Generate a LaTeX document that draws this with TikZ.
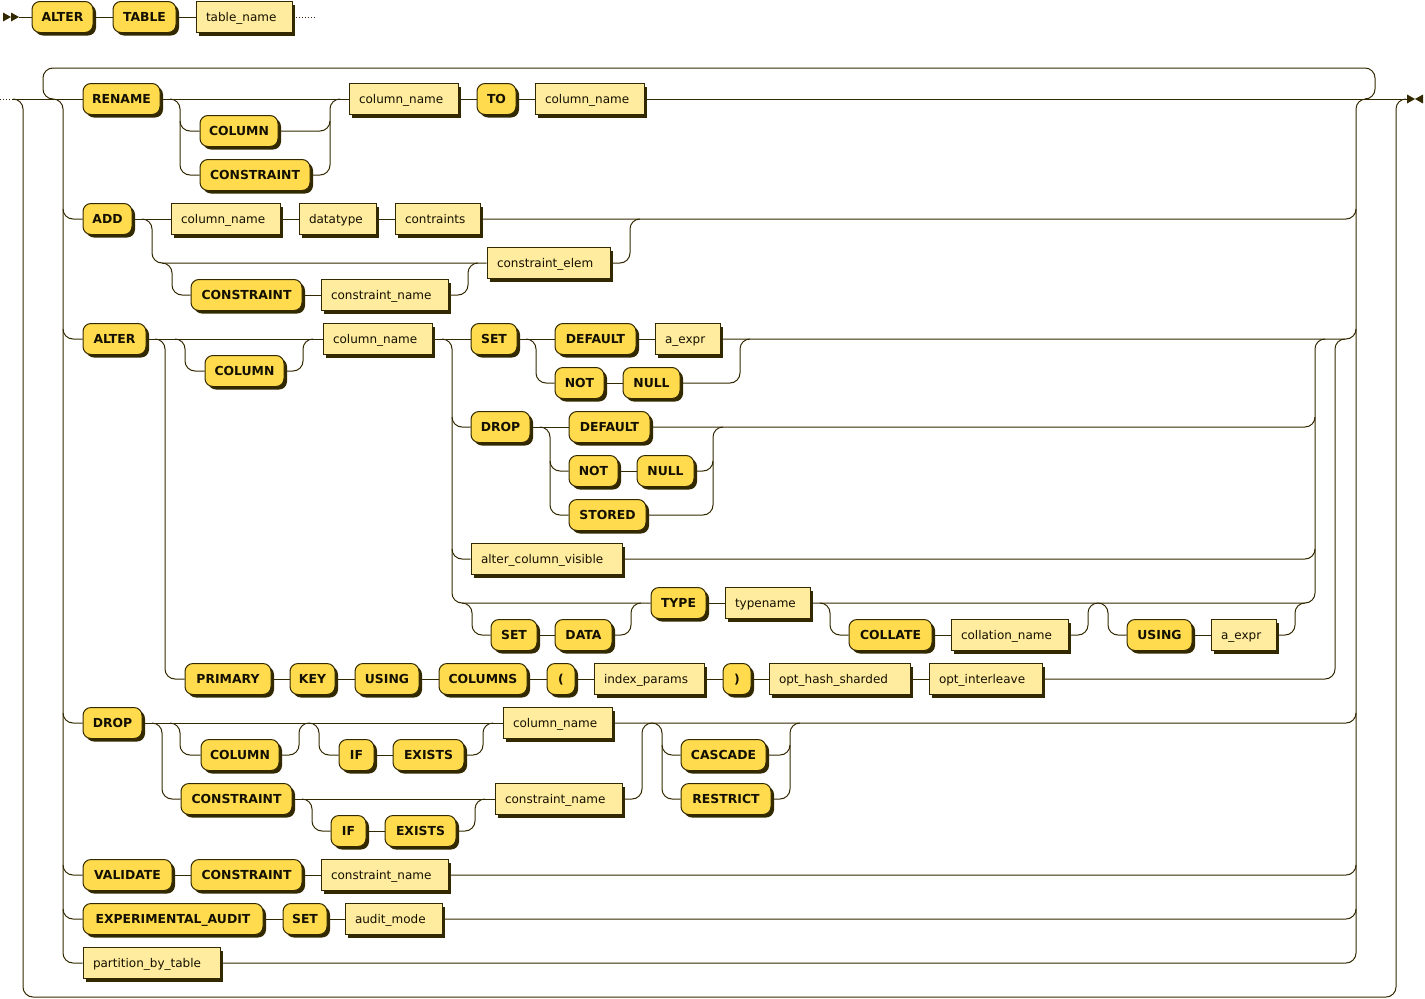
\documentclass[tikz,border=0pt]{standalone}
\usepackage{fontspec}
\setmainfont{DejaVu Sans}
\usetikzlibrary{shadows}
\definecolor{linec}{HTML}{332900}
\definecolor{textc}{HTML}{141000}
\definecolor{termc}{HTML}{FFDB4D}
\definecolor{ntc}{HTML}{FFEC9E}
\definecolor{shadc}{HTML}{332900}
\pgfdeclarelayer{bg}
\pgfsetlayers{bg,main}
\tikzset{
  line/.style={draw=linec, line width=1pt},
  rr/.style={line, rounded corners=10pt},
  dotline/.style={draw=linec, line width=1pt, dash pattern=on 1pt off 2pt},
  boxbase/.style={draw=linec, line width=1pt, minimum height=31pt, inner ysep=0pt,
    text height=8.75pt, text depth=0pt, text=textc,
    drop shadow={shadow xshift=3pt, shadow yshift=-3pt, fill=shadc, opacity=1}},
  term/.style={boxbase, fill=termc, rounded corners=8pt, inner xsep=0pt,
    font={\fontsize{12.4pt}{14pt}\selectfont\bfseries}},
  nonterm/.style={boxbase, fill=ntc, inner xsep=10pt, align=left,
    font={\fontsize{12pt}{14pt}\selectfont}},
}
% keyword box: name, left x, right x, row y, text
\newcommand\kwbox[5]{\pgfmathsetmacro\boxw{#3-#2}%
  \node[term, minimum width=\boxw pt] (#1) at ({(#2+#3)/2},#4) {#5};}
% rule reference box: name, left x, right x, row y, text
\newcommand\ntbox[5]{\pgfmathsetmacro\boxw{#3-#2-20}%
  \node[nonterm, text width=\boxw pt] (#1) at ({(#2+#3)/2},#4) {#5};}
\begin{document}
\begin{tikzpicture}[x=1pt, y=-1pt]
\useasboundingbox (0,0) rectangle (1425,999);

% ---------- header row ----------
\kwbox{a0}{32}{93}{17}{ALTER}
\kwbox{t0}{113}{176}{17}{TABLE}
\ntbox{tn0}{196}{292}{17}{table\_name}
\coordinate (st) at (19,17);
\coordinate (cont) at (315,17);
\fill[linec] (3,12.5) -- (11,17) -- (3,21.5) -- cycle;
\fill[linec] (11,12.5) -- (19,17) -- (11,21.5) -- cycle;

% ---------- RENAME ----------
\kwbox{rename}{83}{160}{99}{RENAME}
\kwbox{rcol}{200}{278}{131}{COLUMN}
\kwbox{rcons}{200}{310}{175}{CONSTRAINT}
\ntbox{rcn1}{349}{458}{99}{column\_name}
\kwbox{rto}{477}{516}{99}{TO}
\ntbox{rcn2}{535}{644}{99}{column\_name}

% ---------- ADD ----------
\kwbox{add}{83}{132}{219}{ADD}
\ntbox{acn}{171}{280}{219}{column\_name}
\ntbox{adt}{299}{376}{219}{datatype}
\ntbox{acon}{395}{480}{219}{contraints}
\ntbox{aelem}{487}{610}{263}{constraint\_elem}
\kwbox{acons}{191}{302}{295}{CONSTRAINT}
\ntbox{acname}{321}{448}{295}{constraint\_name}

% ---------- ALTER ----------
\kwbox{alt}{83}{146}{339}{ALTER}
\kwbox{acol}{205}{284}{371}{COLUMN}
\ntbox{acn2}{323}{432}{339}{column\_name}
\kwbox{aset}{471}{517}{339}{SET}
\kwbox{adef}{555}{636}{339}{DEFAULT}
\ntbox{aexpr1}{655}{720}{339}{a\_expr}
\kwbox{anot1}{555}{604}{383}{NOT}
\kwbox{anull1}{623}{680}{383}{NULL}
\kwbox{adrop}{471}{530}{427}{DROP}
\kwbox{ddef}{569}{650}{427}{DEFAULT}
\kwbox{dnot}{569}{618}{471}{NOT}
\kwbox{dnull}{637}{694}{471}{NULL}
\kwbox{dstored}{569}{646}{515}{STORED}
\ntbox{acv}{471}{622}{559}{alter\_column\_visible}
\kwbox{sset}{491}{537}{635}{SET}
\kwbox{sdata}{555}{612}{635}{DATA}
\kwbox{ttype}{651}{706}{603}{TYPE}
\ntbox{ttn}{725}{810}{603}{typename}
\kwbox{tcoll}{849}{932}{635}{COLLATE}
\ntbox{tcn}{951}{1068}{635}{collation\_name}
\kwbox{tusing}{1127}{1192}{635}{USING}
\ntbox{texpr}{1211}{1276}{635}{a\_expr}
\kwbox{pk1}{185}{271}{679}{PRIMARY}
\kwbox{pk2}{290}{335}{679}{KEY}
\kwbox{pk3}{355}{419}{679}{USING}
\kwbox{pk4}{439}{527}{679}{COLUMNS}
\kwbox{pk5}{547}{575}{679}{(}
\ntbox{pk6}{594}{704}{679}{index\_params}
\kwbox{pk7}{723}{751}{679}{)}
\ntbox{pk8}{769}{910}{679}{opt\_hash\_sharded}
\ntbox{pk9}{929}{1042}{679}{opt\_interleave}

% ---------- DROP ----------
\kwbox{drop}{83}{142}{723}{DROP}
\kwbox{dcol}{201}{279}{755}{COLUMN}
\kwbox{dif1}{339}{374}{755}{IF}
\kwbox{dex1}{393}{464}{755}{EXISTS}
\ntbox{dcn}{503}{612}{723}{column\_name}
\kwbox{dcons}{181}{292}{799}{CONSTRAINT}
\kwbox{dif2}{331}{366}{831}{IF}
\kwbox{dex2}{385}{456}{831}{EXISTS}
\ntbox{dconn}{495}{622}{799}{constraint\_name}
\kwbox{casc}{681}{766}{755}{CASCADE}
\kwbox{restr}{681}{771}{799}{RESTRICT}

% ---------- VALIDATE / EXPERIMENTAL_AUDIT / partition ----------
\kwbox{val}{83}{172}{875}{VALIDATE}
\kwbox{vcons}{191}{302}{875}{CONSTRAINT}
\ntbox{vcn}{321}{448}{875}{constraint\_name}
\kwbox{exp}{83}{263}{919}{EXPERIMENTAL\_AUDIT}
\kwbox{eset}{283}{327}{919}{SET}
\ntbox{eam}{345}{442}{919}{audit\_mode}
\ntbox{pbt}{83}{220}{963}{partition\_by\_table}

% end marker
\coordinate (s2) at (0,99);
\coordinate (s2b) at (13,99);
\coordinate (e2) at (1407,99);
\fill[linec] (1407,94.5) -- (1415,99) -- (1407,103.5) -- cycle;
\fill[linec] (1423,94.5) -- (1415,99) -- (1423,103.5) -- cycle;

\begin{pgfonlayer}{bg}
  % header
  \draw[line] (st) -- (a0) -- (t0) -- (tn0);
  \draw[dotline] (tn0.east) -- (cont);
  % main line, bypass and repetition loop
  \draw[dotline] (s2) -- (s2b);
  \draw[line] (s2b) -- (rename) -- (rcn1) -- (rto) -- (rcn2) -- (e2);
  \draw[rr] (s2b) -- (23,99) -- (23,997) -- (1396,997) -- (1396,99) -- (1406,99);
  \draw[rr] (53,99) -- (43,99) -- (43,68) -- (1375,68) -- (1375,99) -- (1365,99);
  % main choice, left side
  \draw[rr] (53,99) -- (63,99) -- (63,963) -- (pbt.west);
  \draw[rr] (63,209) -- (63,219) -- (add.west);
  \draw[rr] (63,329) -- (63,339) -- (alt.west);
  \draw[rr] (63,713) -- (63,723) -- (drop.west);
  \draw[rr] (63,865) -- (63,875) -- (val.west);
  \draw[rr] (63,909) -- (63,919) -- (exp.west);
  % main choice, right side
  \draw[rr] (pbt.east) -- (1356,963) -- (1356,99) -- (1366,99);
  \draw[rr] (acon.east) -- (1356,219) -- (1356,209);
  \draw[rr] (aexpr1.east) -- (1356,339) -- (1356,329);
  \draw[rr] (dcn.east) -- (1356,723) -- (1356,713);
  \draw[rr] (vcn.east) -- (1356,875) -- (1356,865);
  \draw[rr] (eam.east) -- (1356,919) -- (1356,909);

  % RENAME options
  \draw[rr] (170,99) -- (180,99) -- (180,175) -- (rcons.west);
  \draw[rr] (180,121) -- (180,131) -- (rcol.west);
  \draw[rr] (rcol.east) -- (330,131) -- (330,121);
  \draw[rr] (rcons.east) -- (330,175) -- (330,99) -- (340,99);

  % ADD
  \draw[line] (add) -- (acn) -- (adt) -- (acon);
  \draw[rr] (142,219) -- (152,219) -- (152,263) -- (aelem.west);
  \draw[rr] (162,263) -- (172,263) -- (172,295) -- (acons.west);
  \draw[line] (acons) -- (acname);
  \draw[rr] (acname.east) -- (468,295) -- (468,263) -- (478,263);
  \draw[rr] (aelem.east) -- (630,263) -- (630,219) -- (640,219);

  % ALTER
  \draw[line] (alt) -- (acn2) -- (aset) -- (adef) -- (aexpr1);
  \draw[rr] (155,339) -- (165,339) -- (165,679) -- (pk1.west);
  \draw[rr] (175,339) -- (185,339) -- (185,371) -- (acol.west);
  \draw[rr] (acol.east) -- (303,371) -- (303,339) -- (313,339);
  \draw[rr] (442,339) -- (452,339) -- (452,603) -- (ttype.west);
  \draw[rr] (452,417) -- (452,427) -- (adrop.west);
  \draw[rr] (452,549) -- (452,559) -- (acv.west);
  % SET DEFAULT / NOT NULL
  \draw[rr] (526,339) -- (536,339) -- (536,383) -- (anot1.west);
  \draw[line] (anot1) -- (anull1);
  \draw[rr] (anull1.east) -- (740,383) -- (740,339) -- (750,339);
  % DROP DEFAULT / NOT NULL / STORED
  \draw[line] (adrop) -- (ddef);
  \draw[rr] (ddef.east) -- (1315,427) -- (1315,417);
  \draw[rr] (540,427) -- (550,427) -- (550,515) -- (dstored.west);
  \draw[rr] (550,461) -- (550,471) -- (dnot.west);
  \draw[line] (dnot) -- (dnull);
  \draw[rr] (dnull.east) -- (713,471) -- (713,461);
  \draw[rr] (dstored.east) -- (713,515) -- (713,427) -- (723,427);
  % alter_column_visible
  \draw[rr] (acv.east) -- (1315,559) -- (1315,549);
  % [SET DATA] TYPE typename [COLLATE ...] [USING ...]
  \draw[line] (ttype) -- (ttn);
  \draw[rr] (ttn.east) -- (1315,603) -- (1315,339) -- (1325,339);
  \draw[rr] (462,603) -- (472,603) -- (472,635) -- (sset.west);
  \draw[line] (sset) -- (sdata);
  \draw[rr] (sdata.east) -- (631,635) -- (631,603) -- (641,603);
  \draw[rr] (820,603) -- (830,603) -- (830,635) -- (tcoll.west);
  \draw[line] (tcoll) -- (tcn);
  \draw[rr] (tcn.east) -- (1088,635) -- (1088,603) -- (1098,603);
  \draw[rr] (1098,603) -- (1108,603) -- (1108,635) -- (tusing.west);
  \draw[line] (tusing) -- (texpr);
  \draw[rr] (texpr.east) -- (1295,635) -- (1295,603) -- (1305,603);
  % PRIMARY KEY ...
  \draw[line] (pk1) -- (pk2) -- (pk3) -- (pk4) -- (pk5) -- (pk6) -- (pk7) -- (pk8) -- (pk9);
  \draw[rr] (pk9.east) -- (1335,679) -- (1335,339) -- (1345,339);

  % DROP
  \draw[line] (drop) -- (dcn);
  \draw[rr] (152,723) -- (162,723) -- (162,799) -- (dcons.west);
  \draw[rr] (170,723) -- (180,723) -- (180,755) -- (dcol.west);
  \draw[rr] (dcol.east) -- (299,755) -- (299,723) -- (309,723);
  \draw[rr] (309,723) -- (319,723) -- (319,755) -- (dif1.west);
  \draw[line] (dif1) -- (dex1);
  \draw[rr] (dex1.east) -- (483,755) -- (483,723) -- (493,723);
  \draw[line] (dcons) -- (dconn);
  \draw[rr] (302,799) -- (312,799) -- (312,831) -- (dif2.west);
  \draw[line] (dif2) -- (dex2);
  \draw[rr] (dex2.east) -- (475,831) -- (475,799) -- (485,799);
  \draw[rr] (dconn.east) -- (642,799) -- (642,723) -- (652,723);
  \draw[rr] (652,723) -- (662,723) -- (662,799) -- (restr.west);
  \draw[rr] (662,745) -- (662,755) -- (casc.west);
  \draw[rr] (casc.east) -- (790,755) -- (790,745);
  \draw[rr] (restr.east) -- (790,799) -- (790,723) -- (800,723);

  % VALIDATE / EXPERIMENTAL_AUDIT
  \draw[line] (val) -- (vcons) -- (vcn);
  \draw[line] (exp) -- (eset) -- (eam);
\end{pgfonlayer}
\end{tikzpicture}
\end{document}
